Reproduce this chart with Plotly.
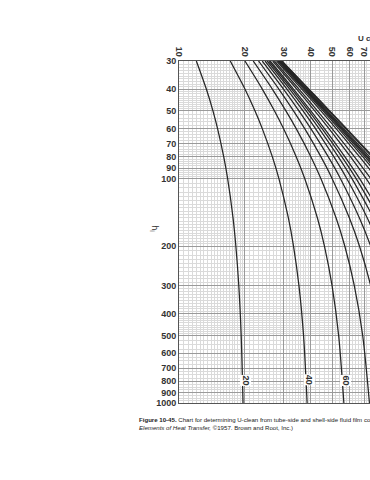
import numpy as np
import plotly.graph_objects as go

# Tube-side film coefficient levels (y axis, h_i) at which curve points were read
HI_LEVELS = [30, 40, 50, 60, 80, 100, 150, 200, 300, 500, 1000]

# Shell-side coefficient curves (h_o labels) and U-clean values
HO_LABELS = [20, 40, 60, 80, 100, 120, 140, 160, 180, 200, 250, 300, 400, 500, 600, 700, 800, 1000, 1500, 2000]
U_HO20 = [12.0, 13.33, 14.29, 15.0, 16.0, 16.67, 17.65, 18.18, 18.75, 19.23, 19.61]
U_HO40 = [17.14, 20.0, 22.22, 24.0, 26.67, 28.57, 31.58, 33.33, 35.29, 37.04, 38.46]
U_HO60 = [20.0, 24.0, 27.27, 30.0, 34.29, 37.5, 42.86, 46.15, 50.0, 53.57, 56.60]
U_HO80 = [21.82, 26.67, 30.77, 34.29, 40.0, 44.44, 52.17, 57.14, 63.16, 68.97, 74.07]
U_HO100 = [23.08, 28.57, 33.33, 37.5, 44.44, 50.0, 60.0, 66.67, 75.0, 83.33]
U_HO120 = [24.0, 30.0, 35.29, 40.0, 48.0, 54.55, 66.67, 75.0, 85.71]
U_HO140 = [24.71, 31.11, 36.84, 42.0, 50.91, 58.33, 72.41, 82.35]
U_HO160 = [25.26, 32.0, 38.10, 43.64, 53.33, 61.54, 77.42]
U_HO180 = [25.71, 32.73, 39.13, 45.0, 55.38, 64.29, 81.82]
U_HO200 = [26.09, 33.33, 40.0, 46.15, 57.14, 66.67, 85.71]
U_HO250 = [26.79, 34.48, 41.67, 48.39, 60.61, 71.43, 93.75]
U_HO300 = [27.27, 35.29, 42.86, 50.0, 63.16, 75.0]
U_HO400 = [27.91, 36.36, 44.44, 52.17, 66.67, 80.0]
U_HO500 = [28.30, 37.04, 45.45, 53.57, 68.97, 83.33]
U_HO600 = [28.57, 37.5, 46.15, 54.55, 70.59, 85.71]
U_HO700 = [28.77, 37.84, 46.67, 55.26, 71.79, 87.5]
U_HO800 = [28.92, 38.10, 47.06, 55.81, 72.73, 88.89]
U_HO1000 = [29.13, 38.46, 47.62, 56.60, 74.07, 90.91]
U_HO1500 = [29.41, 38.96, 48.39, 57.69, 75.95]
U_HO2000 = [29.56, 39.22, 48.78, 58.25, 76.92]
U_CURVES = [U_HO20, U_HO40, U_HO60, U_HO80, U_HO100, U_HO120, U_HO140, U_HO160,
            U_HO180, U_HO200, U_HO250, U_HO300, U_HO400, U_HO500, U_HO600, U_HO700,
            U_HO800, U_HO1000, U_HO1500, U_HO2000]

# Curve labels written near the bottom of the chart (h_o, U at h_i ~ 800)
CURVE_LABEL_TEXT = ["20", "40", "60"]
CURVE_LABEL_U = [19.51, 38.10, 55.81]
CURVE_LABEL_HI = [790, 790, 790]

# Axis ticks
X_TICKS = [10, 20, 30, 40, 50, 60, 70]
X_TICK_TEXT = ["10", "20", "30", "40", "50", "60", "70"]
Y_TICKS = [30, 40, 50, 60, 70, 80, 90, 100, 200, 300, 400, 500, 600, 700, 800, 900, 1000]
Y_TICK_TEXT = [str(v) for v in Y_TICKS]

# Graph-paper rulings
X_FINE = list(np.arange(10, 20, 0.5)) + list(range(20, 40, 1)) + list(range(40, 100, 2))
X_MED = [11, 12, 13, 14, 15, 16, 17, 18, 19, 25, 35, 45, 55, 65, 75, 80]
Y_FINE = (list(range(30, 50, 1)) + list(range(50, 100, 2)) + list(range(100, 200, 5))
          + list(range(200, 500, 10)) + list(range(500, 1001, 25)))
Y_MED = [35, 45, 55, 65, 75, 85, 95, 110, 120, 130, 140, 150, 160, 170, 180, 190,
         250, 350, 450, 550, 650, 750, 850, 950]

fig = go.Figure()

for ho, u in zip(HO_LABELS, U_CURVES):
    fig.add_trace(go.Scatter(
        x=u, y=HI_LEVELS[:len(u)], mode="lines",
        line=dict(color="#262626", width=1.25, shape="spline", smoothing=0.8),
        name=str(ho), showlegend=False, hoverinfo="skip"))

shapes = []
for v in X_MED:
    shapes.append(dict(type="line", xref="x", yref="paper", x0=np.log10(v), x1=np.log10(v),
                       y0=0, y1=1, layer="below", line=dict(color="#bdbdbd", width=0.8)))
for v in Y_MED:
    shapes.append(dict(type="line", xref="paper", yref="y", x0=0, x1=1,
                       y0=np.log10(v), y1=np.log10(v), layer="below",
                       line=dict(color="#bdbdbd", width=0.8)))

font_fam = "Liberation Sans, Arial, sans-serif"
annotations = []
for t, u, h in zip(CURVE_LABEL_TEXT, CURVE_LABEL_U, CURVE_LABEL_HI):
    annotations.append(dict(x=np.log10(u), y=np.log10(h), xref="x", yref="y", text="<b>%s</b>" % t,
                            showarrow=False, textangle=90, xshift=3, bgcolor="white",
                            borderpad=0, font=dict(family=font_fam, size=9, color="#333")))
annotations.append(dict(x=0.925, y=1.067, xref="paper", yref="paper", text="<b>U clean</b>",
                        showarrow=False, xanchor="left", yanchor="middle",
                        font=dict(family=font_fam, size=8, color="#333")))
annotations.append(dict(x=-0.172, y=0.512, xref="paper", yref="paper", text="h<sub>i</sub>",
                        showarrow=False, textangle=90,
                        font=dict(family=font_fam, size=9, color="#333")))
annotations.append(dict(x=-0.22, y=-0.049, xref="paper", yref="paper", xanchor="left", yanchor="middle",
                        text="<b>Figure 10-45.</b> Chart for determining U-clean from tube-side and shell-side fluid film coefficients. (Used by permission:",
                        showarrow=False, font=dict(family=font_fam, size=6.1, color="#222")))
annotations.append(dict(x=-0.22, y=-0.073, xref="paper", yref="paper", xanchor="left", yanchor="middle",
                        text="<i>Elements of Heat Transfer,</i> ©1957. Brown and Root, Inc.)",
                        showarrow=False, font=dict(family=font_fam, size=6.1, color="#222")))

fig.update_layout(
    width=370, height=480,
    margin=dict(l=179, r=0, t=61, b=77),
    paper_bgcolor="white", plot_bgcolor="white",
    shapes=shapes, annotations=annotations,
    xaxis=dict(type="log", range=[1, 1 + 191 / 219], side="top",
               tickmode="array", tickvals=X_TICKS, ticktext=X_TICK_TEXT, tickangle=90,
               tickfont=dict(family=font_fam, size=9, color="#333", weight="bold"),
               ticks="", showgrid=True, gridcolor="#9a9a9a", gridwidth=1,
               minor=dict(tickvals=X_FINE, showgrid=True, gridcolor="#dadada", gridwidth=0.6, ticks=""),
               showline=True, linecolor="#555", linewidth=1, mirror=True, zeroline=False),
    yaxis=dict(type="log", range=[3, np.log10(30)],
               tickmode="array", tickvals=Y_TICKS, ticktext=Y_TICK_TEXT,
               tickfont=dict(family=font_fam, size=9, color="#333", weight="bold"),
               ticks="", showgrid=True, gridcolor="#9a9a9a", gridwidth=1,
               minor=dict(tickvals=Y_FINE, showgrid=True, gridcolor="#dadada", gridwidth=0.6, ticks=""),
               showline=True, linecolor="#555", linewidth=1, mirror=True, zeroline=False),
)

fig.write_html("out.html")
